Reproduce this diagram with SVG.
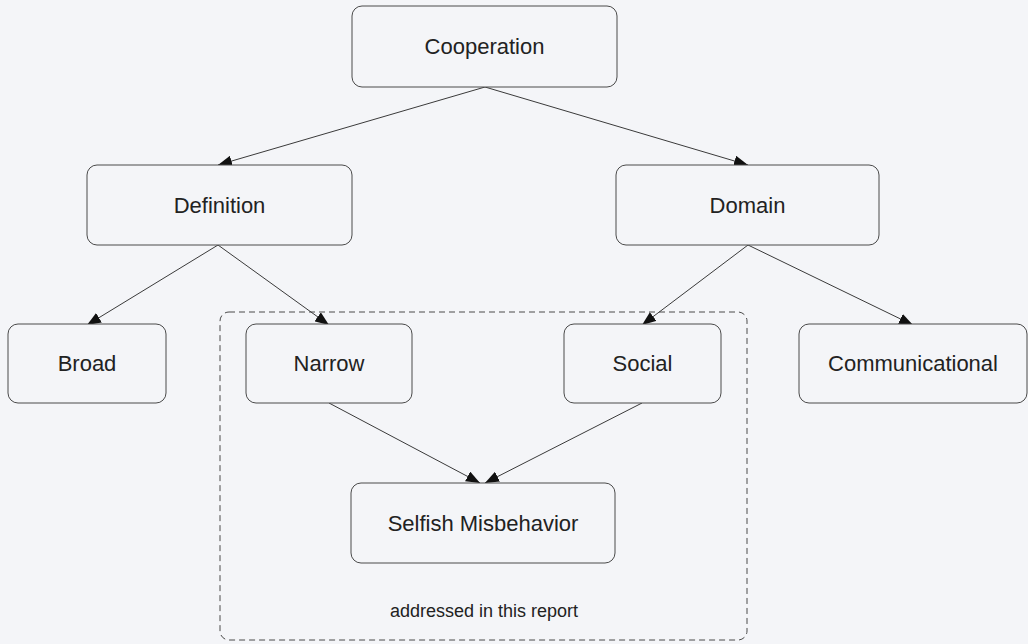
<svg xmlns="http://www.w3.org/2000/svg" width="1028" height="644" viewBox="0 0 1028 644">
  <style>
    .node rect { fill: #f4f5f8; stroke: #4a4a4a; stroke-width: 1; }
    .node text { font-family: "Liberation Sans", Arial, sans-serif; font-size: 22px; fill: #222; text-anchor: middle; dominant-baseline: central; }
    .edge { stroke: #3a3a3a; stroke-width: 1; fill: none; marker-end: url(#arrow); }
    .group-box { fill: none; stroke: #4a4a4a; stroke-width: 1; stroke-dasharray: 6 4; }
    .note { font-family: "Liberation Sans", Arial, sans-serif; font-size: 18px; fill: #222; text-anchor: middle; }
  </style>
  <defs>
    <marker id="arrow" viewBox="0 0 14 11" refX="14" refY="5.5" markerWidth="14" markerHeight="11" markerUnits="userSpaceOnUse" orient="auto">
      <path d="M0,0 L14,5.5 L0,11 z" fill="#111"/>
    </marker>
  </defs>

  <rect width="1028" height="644" fill="#f4f5f8"/>

  <!-- scope of the report -->
  <g id="scope">
    <rect class="group-box" x="220" y="312" width="527" height="328" rx="9"/>
    <text class="note" x="484" y="617">addressed in this report</text>
  </g>

  <g id="connectors">
    <line class="edge" x1="485" y1="87" x2="218" y2="165"/>
    <line class="edge" x1="485" y1="87" x2="748" y2="165"/>
    <line class="edge" x1="218" y1="245" x2="87" y2="325"/>
    <line class="edge" x1="218" y1="245" x2="329" y2="325"/>
    <line class="edge" x1="748" y1="245" x2="642" y2="325"/>
    <line class="edge" x1="748" y1="245" x2="913" y2="325"/>
    <line class="edge" x1="329" y1="403" x2="480" y2="483"/>
    <line class="edge" x1="642" y1="403" x2="485" y2="483"/>
  </g>

  <g id="cooperation" class="node">
    <rect x="352" y="6" width="265" height="81" rx="10"/>
    <text x="484.5" y="46">Cooperation</text>
  </g>
  <g id="definition" class="node">
    <rect x="87" y="165" width="265" height="80" rx="10"/>
    <text x="219.5" y="205">Definition</text>
  </g>
  <g id="domain" class="node">
    <rect x="616" y="165" width="263" height="80" rx="10"/>
    <text x="747.5" y="205">Domain</text>
  </g>
  <g id="broad" class="node">
    <rect x="8" y="324" width="158" height="79" rx="10"/>
    <text x="87" y="363">Broad</text>
  </g>
  <g id="narrow" class="node">
    <rect x="246" y="324" width="166" height="79" rx="10"/>
    <text x="329" y="363">Narrow</text>
  </g>
  <g id="social" class="node">
    <rect x="564" y="324" width="157" height="79" rx="10"/>
    <text x="642.5" y="363">Social</text>
  </g>
  <g id="communicational" class="node">
    <rect x="799" y="324" width="228" height="79" rx="10"/>
    <text x="913" y="363">Communicational</text>
  </g>
  <g id="selfish-misbehavior" class="node">
    <rect x="351" y="483" width="264" height="80" rx="10"/>
    <text x="483" y="523">Selfish Misbehavior</text>
  </g>
</svg>
